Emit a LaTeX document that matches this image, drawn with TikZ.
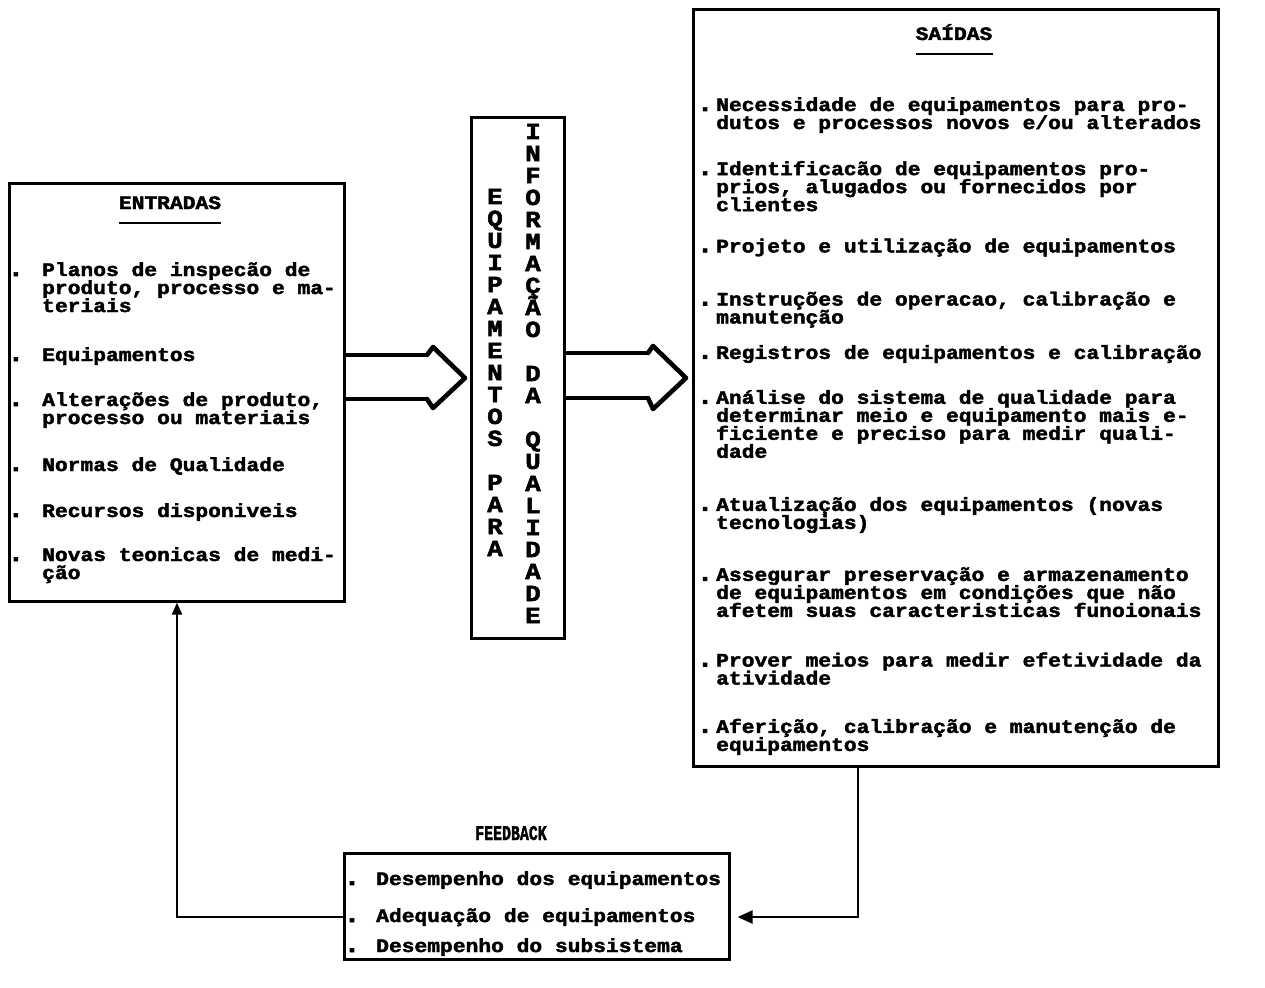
\documentclass[tikz,border=0pt]{standalone}
\usepackage{fontspec}
\usepackage{graphicx}
\usetikzlibrary{arrows.meta,calc}
\newfontfamily\dotfont[FakeStretch=1.12, BoldFeatures={FakeBold=2.2}]{Liberation Mono}
\newcommand\bodyfont{\fontsize{19}{18}\selectfont\dotfont\bfseries\lineskiplimit=-50pt\lineskip=0pt}
\newcommand\bulletfont{\fontsize{25}{25}\selectfont\dotfont\bfseries}
\newcommand\letterfont{\fontsize{23}{23}\selectfont\dotfont\bfseries}
% a block of lines with a fixed line pitch, aligned on its first baseline
\newcommand\block[2]{\parbox[t]{#1}{\bodyfont\raggedright #2}}

\begin{document}
\begin{tikzpicture}[x=1pt,y=-1pt,
  frame/.style={draw=black, line width=2.6pt, fill=white, inner sep=0pt, anchor=north west},
  txt/.style={font=\bodyfont, inner sep=0pt, anchor=base west},
  dot/.style={font=\bulletfont, inner sep=0pt, anchor=base},
  letter/.style={font=\letterfont, inner sep=0pt, anchor=base},
  wire/.style={line width=2.4pt},
  hollow/.style={line width=3.2pt},
  hollowhead/.style={line width=4.6pt, line join=round, line cap=round},
  uline/.style={line width=2.6pt}
]
\useasboundingbox (0,0) rectangle (1265,987);
\fill[white] (0,0) rectangle (1265,987);

% the four frames
\node[frame, minimum width=335pt, minimum height=418pt] (ent) at (8,182) {};
\node[frame, minimum width=93pt, minimum height=521pt] (mid) at (470,116) {};
\node[frame, minimum width=525pt, minimum height=757pt] (sai) at (692,8) {};
\node[frame, minimum width=385pt, minimum height=106pt] (fb) at (343,852) {};

% headings
\node[txt, anchor=base] (tent) at (170,209) {ENTRADAS};
\draw[uline] ([yshift=-14pt]tent.base west) -- ([yshift=-14pt]tent.base east);
\node[txt, anchor=base] (tsai) at (954,40) {SAÍDAS};
\draw[uline] ([yshift=-14pt]tsai.base west) -- ([yshift=-14pt]tsai.base east);
\node[txt, anchor=base] (tfb) at (511,840) {\scalebox{0.7}[1.1]{FEEDBACK}};

% inputs
\foreach \n/\y/\lines in {
  1/276/{Planos de inspecão de\\produto, processo e ma-\\teriais},
  2/361/{Equipamentos},
  3/406/{Alterações de produto,\\processo ou materiais},
  4/471/{Normas de Qualidade},
  5/517/{Recursos disponiveis},
  6/561/{Novas teonicas de medi-\\ção}}
{
  \node[dot] (eb\n) at (16,\y) {.};
  \node[txt] (e\n) at (42,\y) {\block{300pt}{\lines}};
}

% outputs
\foreach \n/\y/\lines in {
  1/111/{Necessidade de equipamentos para pro-\\dutos e processos novos e/ou alterados},
  2/175.1/{Identificacão de equipamentos pro-\\prios, alugados ou fornecidos por\\clientes},
  3/252.4/{Projeto e utilização de equipamentos},
  4/305.5/{Instruções de operacao, calibração e\\manutenção},
  5/358.9/{Registros de equipamentos e calibração},
  6/403.8/{Análise do sistema de qualidade para\\determinar meio e equipamento mais e-\\ficiente e preciso para medir quali-\\dade},
  7/510.9/{Atualização dos equipamentos (novas\\tecnologias)},
  8/580.9/{Assegurar preservação e armazenamento\\de equipamentos em condições que não\\afetem suas caracteristicas funoionais},
  9/666.5/{Prover meios para medir efetividade da\\atividade},
  10/732.9/{Aferição, calibração e manutenção de\\equipamentos}}
{
  \node[dot] (sb\n) at (705,\y) {.};
  \node[txt] (s\n) at (716,\y) {\block{495pt}{\lines}};
}

% feedback items
\foreach \n/\y/\lines in {
  1/885/{Desempenho dos equipamentos},
  2/922/{Adequação de equipamentos},
  3/952/{Desempenho do subsistema}}
{
  \node[dot] (fbb\n) at (352,\y) {.};
  \node[txt] (f\n) at (376,\y) {\lines};
}

% vertical lettering in the middle frame
\foreach \c [count=\i from 0] in {E,Q,U,I,P,A,M,E,N,T,O,S,{},P,A,R,A}
  \node[letter] (l\i) at (495,204+22*\i) {\c};
\foreach \c [count=\i from 0] in {I,N,F,O,R,M,A,Ç,Ã,O,{},D,A,{},Q,U,A,L,I,D,A,D,E}
  \node[letter] (r\i) at (533,139+22*\i) {\c};

% hollow arrows
\draw[hollow] (ent.east |- 0,355) -- (427,355) (427,399) -- (ent.east |- 0,399);
\draw[hollowhead] (427,355) -- (433,347) -- ($(mid.west |- 0,378)+(-5,0)$) -- (433,408) -- (427,399);
\draw[hollow] (mid.east |- 0,353) -- (648,353) (648,398) -- (mid.east |- 0,398);
\draw[hollowhead] (648,353) -- (653,346) -- ($(sai.west |- 0,378)+(-6,0)$) -- (653,409) -- (648,398);

% feedback loop
\draw[wire, -{Triangle[length=15pt,width=13pt]}] (sai.south -| 858,0) -- (858,917) -- ($(fb.east |- 0,917)+(7,0)$);
\draw[wire, -{Triangle[length=12pt,width=10pt]}] (fb.west |- 0,917) -- (177,917) -- (ent.south -| 177,0);
\end{tikzpicture}
\end{document}
